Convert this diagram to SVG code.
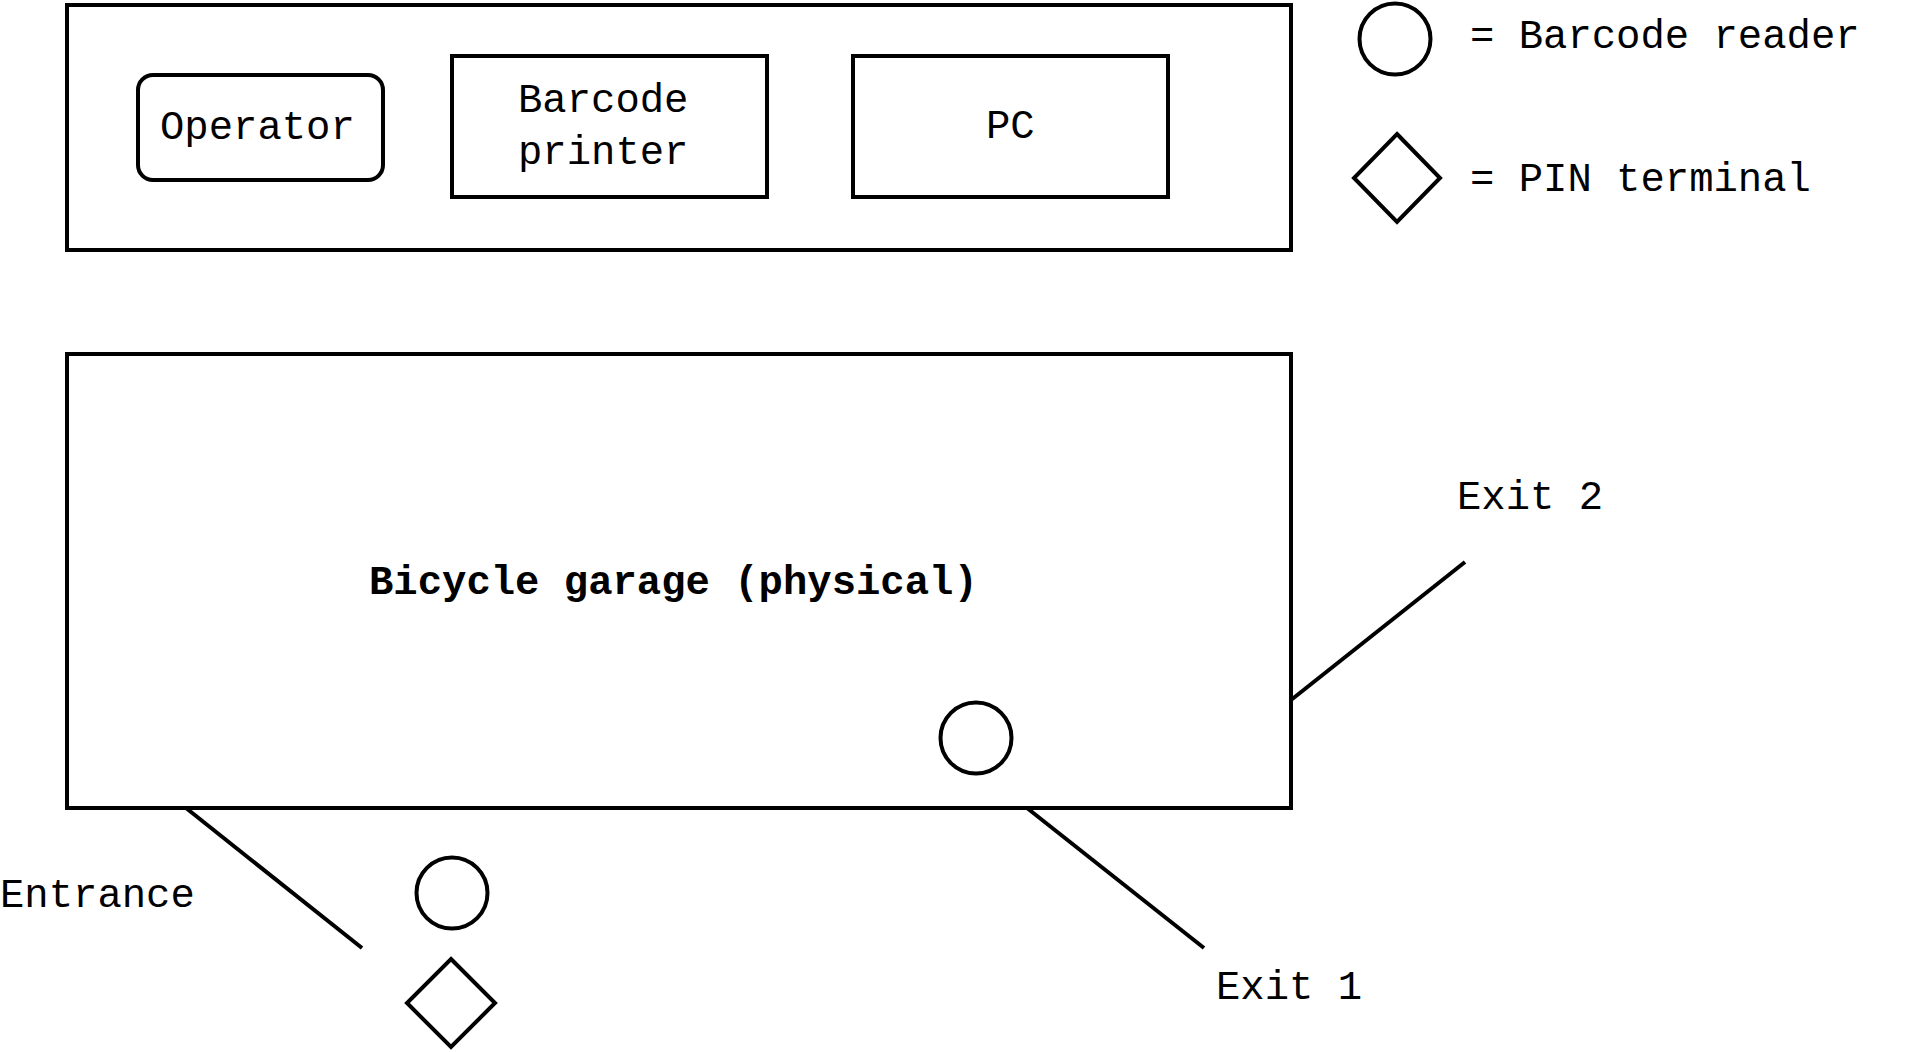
<svg xmlns="http://www.w3.org/2000/svg" width="1923" height="1052" viewBox="0 0 1923 1052">
<style>
  .shape { fill: #ffffff; stroke: #000000; stroke-width: 4; }
  .line { fill: none; stroke: #000000; stroke-width: 4; }
  .t { font-family: "Liberation Mono", "Courier New", monospace; font-size: 40.6px; fill: #000000; }
  .b { font-weight: bold; }
</style>
<rect x="0" y="0" width="1923" height="1052" fill="#ffffff"/>
<g id="office">
  <rect class="shape" x="67" y="5" width="1224" height="245"/>
</g>
<g id="operator">
  <rect class="shape" x="138" y="75" width="245" height="105" rx="15" ry="15"/>
  <text class="t" x="160" y="139">Operator</text>
</g>
<g id="barcode-printer">
  <rect class="shape" x="452" y="56" width="315" height="141"/>
  <text class="t" x="518" y="112">Barcode</text>
  <text class="t" x="518" y="164">printer</text>
</g>
<g id="pc">
  <rect class="shape" x="853" y="56" width="315" height="141"/>
  <text class="t" x="986" y="138">PC</text>
</g>
<g id="legend-reader">
  <circle class="shape" cx="1395" cy="39" r="35.5"/>
  <text class="t" x="1470" y="48">= Barcode reader</text>
</g>
<g id="legend-pin">
  <polygon class="shape" points="1397,134 1440,178 1397,222 1354,178"/>
  <text class="t" x="1470" y="191">= PIN terminal</text>
</g>
<g id="garage">
  <rect class="shape" x="67" y="354" width="1224" height="454"/>
  <text class="t b" x="369" y="594">Bicycle garage (physical)</text>
</g>
<g id="exit-reader">
  <circle class="shape" cx="976" cy="738" r="35.5"/>
</g>
<g id="entrance-reader">
  <circle class="shape" cx="452" cy="893" r="35.5"/>
</g>
<g id="entrance-pin">
  <polygon class="shape" points="451,959 495,1003 451,1047 407,1003"/>
</g>
<g id="connectors">
  <line class="line" x1="186" y1="808" x2="362" y2="948"/>
  <line class="line" x1="1027" y1="808" x2="1204" y2="948"/>
  <line class="line" x1="1291" y1="700" x2="1465" y2="562"/>
</g>
<g id="labels">
  <text class="t" x="0" y="907">Entrance</text>
  <text class="t" x="1216" y="999">Exit 1</text>
  <text class="t" x="1457" y="509">Exit 2</text>
</g>
</svg>
